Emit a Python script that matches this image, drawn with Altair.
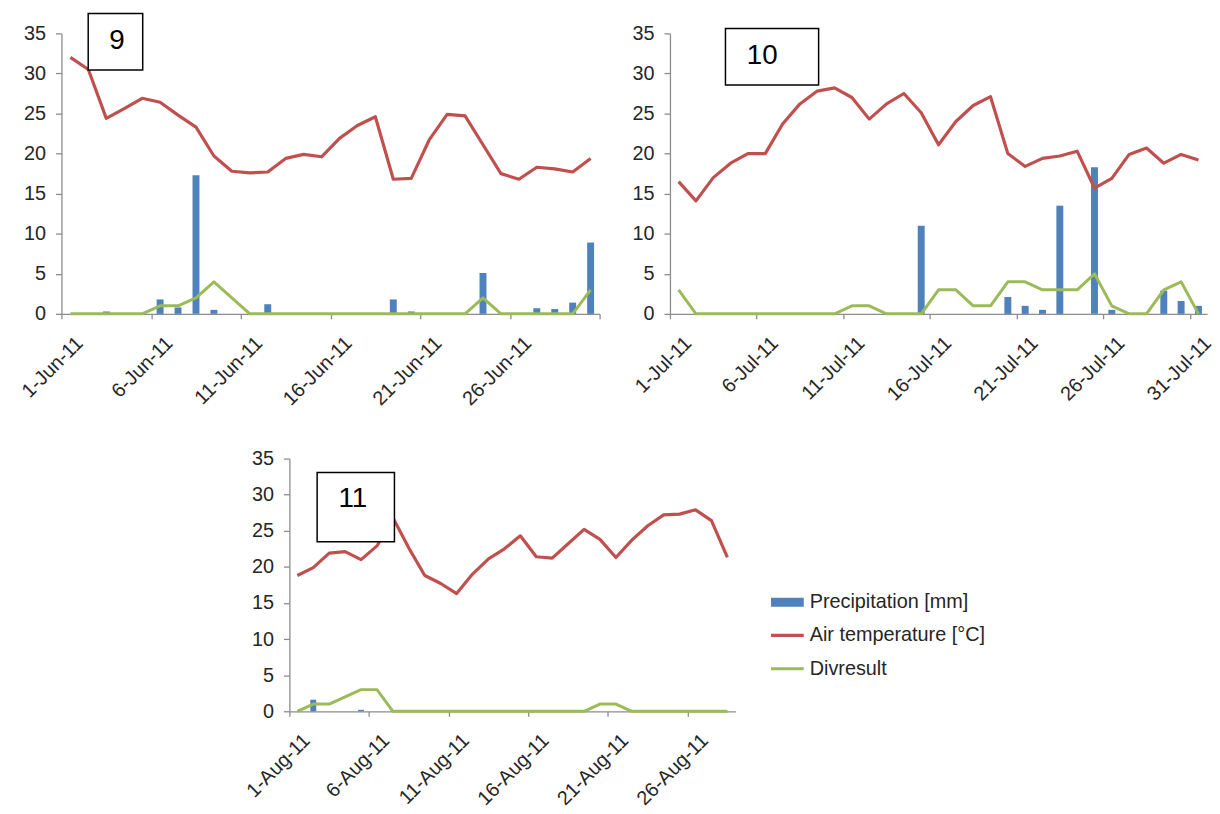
import json
import altair as alt
import pandas as pd

FONT = "Liberation Sans"
TEXT = "#262626"
AXIS = "#8c8c8c"

# ---- June 2011 ----
june_labels = ["1-Jun-11", "6-Jun-11", "11-Jun-11", "16-Jun-11", "21-Jun-11", "26-Jun-11"]
june_temp = [32.0, 30.5, 24.4, 25.6, 26.9, 26.4, 24.8, 23.3, 19.7, 17.8,
             17.6, 17.7, 19.4, 19.9, 19.6, 21.9, 23.5, 24.6, 16.8, 16.9,
             21.7, 24.9, 24.7, 21.1, 17.5, 16.8, 18.3, 18.1, 17.7, 19.4]
june_precip = [0, 0, 0.3, 0, 0, 1.8, 0.8, 17.3, 0.5, 0,
               0, 1.2, 0, 0, 0, 0, 0, 0, 1.8, 0.3,
               0, 0, 0, 5.1, 0, 0, 0.7, 0.6, 1.4, 8.9]
june_div = [0, 0, 0, 0, 0, 1, 1, 2, 4, 2,
            0, 0, 0, 0, 0, 0, 0, 0, 0, 0,
            0, 0, 0, 2, 0, 0, 0, 0, 0, 3]

# ---- July 2011 ----
july_labels = ["1-Jul-11", "6-Jul-11", "11-Jul-11", "16-Jul-11", "21-Jul-11", "26-Jul-11", "31-Jul-11"]
july_temp = [16.5, 14.1, 17.0, 18.8, 20.0, 20.0, 23.7, 26.2, 27.8, 28.2,
             27.0, 24.3, 26.2, 27.5, 25.1, 21.1, 24.0, 26.0, 27.1, 20.0,
             18.4, 19.4, 19.7, 20.3, 15.7, 16.9, 19.9, 20.7, 18.8, 19.9, 19.2]
july_precip = [0, 0, 0, 0, 0, 0, 0, 0, 0, 0,
               0, 0, 0, 0, 11.0, 0, 0, 0, 0, 2.1,
               1.0, 0.5, 13.5, 0, 18.3, 0.5, 0, 0, 2.9, 1.6, 1.0]
july_div = [3, 0, 0, 0, 0, 0, 0, 0, 0, 0,
            1, 1, 0, 0, 0, 3, 3, 1, 1, 4,
            4, 3, 3, 3, 5, 1, 0, 0, 3, 4, 0]

# ---- August 2011 ----
aug_labels = ["1-Aug-11", "6-Aug-11", "11-Aug-11", "16-Aug-11", "21-Aug-11", "26-Aug-11"]
aug_temp = [18.8, 19.9, 21.9, 22.1, 21.0, 22.9, 26.8, 22.6, 18.8, 17.7,
            16.3, 19.0, 21.1, 22.5, 24.3, 21.4, 21.2, 23.2, 25.2, 23.8,
            21.3, 23.7, 25.7, 27.2, 27.3, 27.9, 26.4, 21.3]
aug_precip = [0, 1.6, 0, 0, 0.2, 0, 0, 0, 0, 0,
              0, 0, 0, 0, 0, 0, 0, 0, 0, 0,
              0, 0, 0, 0, 0, 0, 0, 0]
aug_div = [0, 1, 1, 2, 3, 3, 0, 0, 0, 0,
           0, 0, 0, 0, 0, 0, 0, 0, 0, 1,
           1, 0, 0, 0, 0, 0, 0, 0]

panel_labels = ["9", "10", "11"]

series_names = ["Precipitation [mm]", "Air temperature [°C]", "Divresult"]
series_colors = ["#4f81bd", "#c0504d", "#9bbb59"]
series_widths = [9, 3.2, 3]

color_scale = alt.Scale(domain=series_names, range=series_colors)
width_scale = alt.Scale(type="ordinal", domain=series_names, range=series_widths)
color = alt.Color("series:N", scale=color_scale, legend=None)
swidth = alt.StrokeWidth("series:N", scale=width_scale, legend=None)


def panel(temp, precip, div, labels, label_text, width, height, bar_size,
          label_offset, box, text_xy):
    n = len(temp)
    df = pd.DataFrame({"day": list(range(1, n + 1)), "temp": temp,
                       "precip": precip, "div": div})
    ticks = [0.5 + 5 * i for i in range(n // 5 + 1)]
    label_expr = f"{json.dumps(labels)}[round((datum.value - 0.5) / 5)] || ''"
    x = alt.X("day:Q",
              scale=alt.Scale(domain=[0.5, n + 0.5], nice=False, zero=False,
                              padding=0),
              axis=alt.Axis(values=ticks, labelExpr=label_expr, labelAngle=-45,
                            labelOffset=label_offset, labelPadding=14,
                            labelOverlap=False, labelFlush=False,
                            labelBound=False, title=None))
    yscale = alt.Scale(domain=[0, 35], nice=False)
    yaxis = alt.Axis(values=list(range(0, 36, 5)), title=None, labelPadding=10,
                     tickSize=6)
    base = alt.Chart(df)
    bars = base.mark_bar(size=bar_size).transform_calculate(
        series=f"'{series_names[0]}'"
    ).encode(x=x, y=alt.Y("precip:Q", scale=yscale, axis=yaxis), color=color)
    temp_line = base.mark_line(strokeJoin="round").transform_calculate(
        series=f"'{series_names[1]}'"
    ).encode(x=x, y=alt.Y("temp:Q", scale=yscale, axis=yaxis),
             color=color, strokeWidth=swidth)
    div_line = base.mark_line(strokeJoin="round").transform_calculate(
        series=f"'{series_names[2]}'"
    ).encode(x=x, y=alt.Y("div:Q", scale=yscale, axis=yaxis),
             color=color, strokeWidth=swidth)
    tag = alt.Chart(pd.DataFrame({"label": [label_text]}))
    frame = tag.mark_rect(fill="white", stroke="black", strokeWidth=1.5).encode(
        x=alt.value(box[0]), x2=alt.value(box[1]),
        y=alt.value(box[2]), y2=alt.value(box[3]))
    number = tag.mark_text(font=FONT, fontSize=28, color="black",
                           align="center", baseline="middle").encode(
        x=alt.value(text_xy[0]), y=alt.value(text_xy[1]), text="label:N")
    return alt.layer(bars, temp_line, div_line, frame, number)


def key_layer():
    # series key drawn beside the August panel
    key = alt.Chart(pd.DataFrame({"series": series_names}))
    key_y = alt.Y("series:N", axis=None,
                  scale=alt.Scale(type="point", domain=series_names,
                                  range=[145, 212], padding=0))
    swatch = key.mark_rule(strokeCap="butt").encode(
        x=alt.value(486), x2=alt.value(519), y=key_y,
        color=color, strokeWidth=swidth)
    text = key.mark_text(font=FONT, fontSize=20, color=TEXT, align="left",
                         baseline="middle").encode(
        x=alt.value(525), y=key_y, text="series:N")
    return alt.layer(swatch, text)


june = panel(june_temp, june_precip, june_div, june_labels, panel_labels[0],
             543, 283, 7, 11, (27, 82, -20, 37), (56, 8)).properties(
    width=543, height=283)
july = panel(july_temp, july_precip, july_div, july_labels, panel_labels[1],
             542, 283, 7, 11, (56, 150, -5, 52), (93, 23)).properties(
    width=542, height=283)
aug = alt.layer(
    panel(aug_temp, aug_precip, aug_div, aug_labels, panel_labels[2],
          450, 255, 6, 10, (28, 106, 14, 84), (64, 41)),
    key_layer(),
).resolve_scale(y="independent").properties(width=450, height=255)

# empty block that pushes the August panel to the right
spacer = alt.Chart(pd.DataFrame({"v": [0]})).mark_point(opacity=0).encode(
    x=alt.value(0), y=alt.value(0)).properties(width=200, height=255)

top_row = alt.hconcat(june, july, spacing=71, bounds="flush")
bottom_row = alt.hconcat(spacer, aug, spacing=30, bounds="flush")

chart = alt.vconcat(top_row, bottom_row, spacing=429, bounds="flush").properties(
    padding={"left": 18, "top": 9, "right": 5, "bottom": 5},
    background="white",
).configure_view(stroke=None).configure_axis(
    grid=False, domainColor=AXIS, tickColor=AXIS, tickSize=5, domainWidth=1.3,
    tickWidth=1.3, labelFont=FONT, labelFontSize=20, labelColor=TEXT,
    labelPadding=3,
)

chart.save("out.html", embed_options={"renderer": "svg", "actions": False})
